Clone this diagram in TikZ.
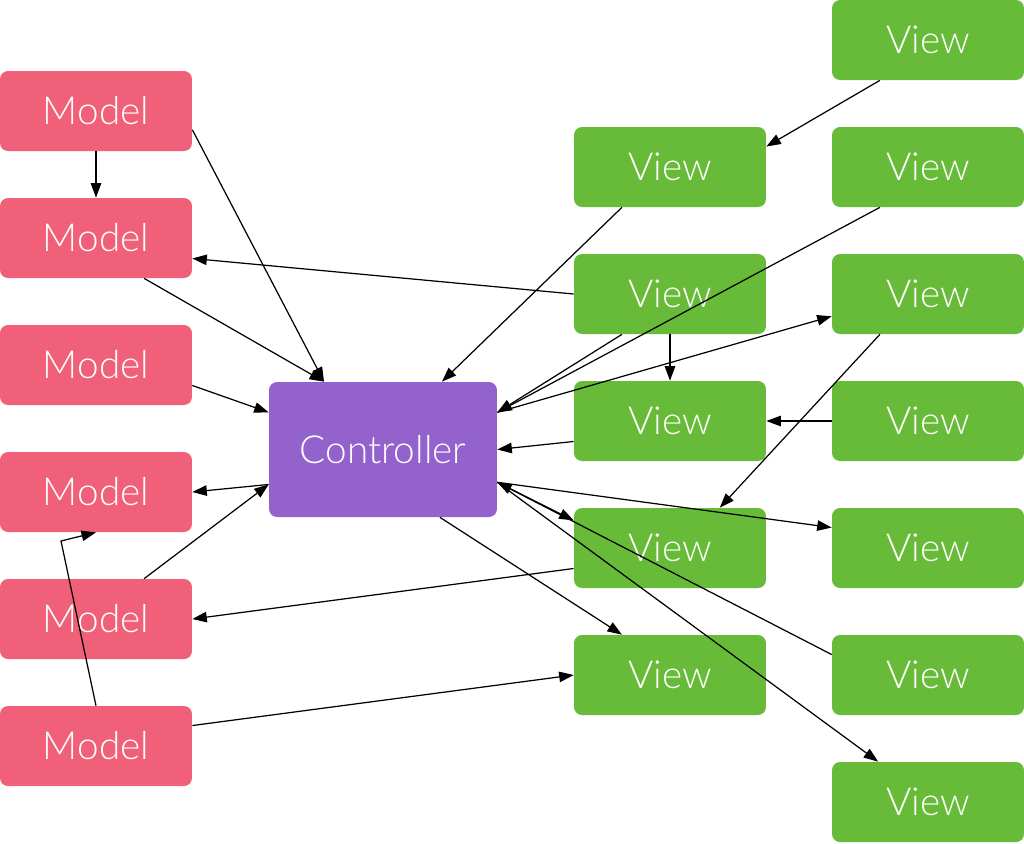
\documentclass[tikz,border=0pt]{standalone}
\usepackage{fontspec}
\IfFontExistsTF{Lato Light}{\setmainfont{Lato Light}}{\setmainfont{Lato}}
\usepackage{xcolor}
\usepackage{tikz}
\usetikzlibrary{arrows.meta}

\definecolor{modelred}{RGB}{240,96,120}
\definecolor{viewgreen}{RGB}{103,187,56}
\definecolor{ctrlpurple}{RGB}{148,98,204}

\tikzset{
	box/.style={rectangle, rounded corners=0.16cm, text=white, inner sep=0pt,
		font=\fontsize{22}{26}\selectfont},
	model/.style={box, fill=modelred, minimum width=3.84cm, minimum height=1.6cm},
	view/.style={box, fill=viewgreen, minimum width=3.84cm, minimum height=1.6cm},
	ctrl/.style={box, fill=ctrlpurple, minimum width=4.56cm, minimum height=2.7cm},
	link/.style={line width=0.7pt, -{Triangle[length=2.9mm,width=2.1mm]}}
}

\begin{document}
\begin{tikzpicture}[x=0.02cm, y=-0.02cm]
	\useasboundingbox (0,0) rectangle (1024,843);
	% models
	\node[model] (m1) at (96,111) {Model};
	\node[model] (m2) at (96,238) {Model};
	\node[model] (m3) at (96,365) {Model};
	\node[model] (m4) at (96,492) {Model};
	\node[model] (m5) at (96,619) {Model};
	\node[model] (m6) at (96,746) {Model};
	% controller
	\node[ctrl] (c) at (383,449.5) {Controller};
	% views
	\node[view] (va1) at (670,167) {View};
	\node[view] (va2) at (670,294) {View};
	\node[view] (va3) at (670,421) {View};
	\node[view] (va4) at (670,548) {View};
	\node[view] (va5) at (670,675) {View};
	\node[view] (vb0) at (928,40) {View};
	\node[view] (vb1) at (928,167) {View};
	\node[view] (vb2) at (928,294) {View};
	\node[view] (vb3) at (928,421) {View};
	\node[view] (vb4) at (928,548) {View};
	\node[view] (vb5) at (928,675) {View};
	\node[view] (vb6) at (928,802) {View};
	\coordinate (bend) at (61,541);
	% links
	\draw[link] (m1.-11) -- (c.131);
	\draw[link] (m1.south) -- (m2.north);
	\draw[link] (va2.west) -- (m2.-12);
	\draw[link] (m2.-40) -- (c.131);
	\draw[link] (m3.-12) -- (c.162);
	\draw[link] (c.197) -- (m4.east);
	\draw[link] (m5.40) -- (c.197);
	\draw[link] (va4.192) -- (m5.east);
	\draw[link] (m6.north) -- (bend) -- (m4.south);
	\draw[link] (m6.12) -- (va5.west);
	\draw[link] (va1.220) -- (c.49);
	\draw[link] (vb0.220) -- (va1.12);
	\draw[link] (vb1.220) -- (c.18);
	\draw[link] (va2.220) -- (c.18);
	\draw[link] (c.18) -- (vb2.193);
	\draw[link] (va2.south) -- (va3.north);
	\draw[link] (va3.192) -- (c.east);
	\draw[link] (vb3.west) -- (va3.east);
	\draw[link] (vb2.220) -- (va4.39);
	\draw[link] (c.-16) -- (vb4.168);
	\draw[link] (c.-16) -- (va4.164);
	\draw[link] (vb5.168) -- (c.-16);
	\draw[link] (c.-16) -- (vb6.141);
	\draw[link] (c.-50) -- (va5.140);
\end{tikzpicture}
\end{document}
